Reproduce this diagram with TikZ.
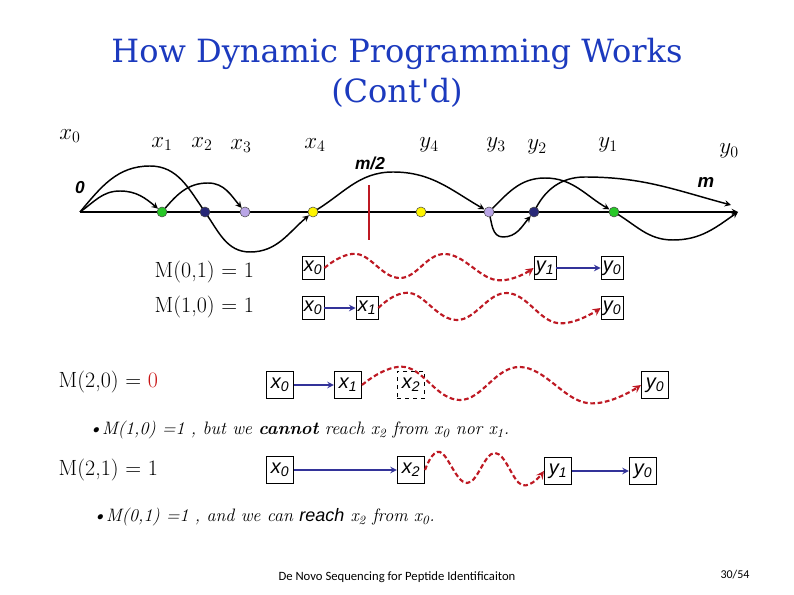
\documentclass[tikz,border=0pt]{standalone}
\usepackage{fontspec}
\setsansfont{Liberation Sans}
\newfontfamily\titlefont{DejaVu Serif}
\newfontfamily\footfont{Carlito}
\usetikzlibrary{backgrounds}
\definecolor{titleblue}{RGB}{28,58,190}
\definecolor{wavered}{RGB}{190,25,35}
\definecolor{navy}{RGB}{51,51,153}
\definecolor{dotgreen}{RGB}{40,200,40}
\definecolor{dotblue}{RGB}{40,40,120}
\definecolor{dotlilac}{RGB}{185,165,230}
\definecolor{dotyellow}{RGB}{255,245,0}
\definecolor{zerored}{RGB}{200,20,20}
\begin{document}
\begin{tikzpicture}[x=0.75pt,y=-0.75pt,>=stealth,
  dot/.style={circle,draw=black!70,line width=0.4pt,inner sep=0pt,minimum size=7.5pt},
  cell/.style={draw,line width=0.6pt,inner sep=0pt,minimum width=16.5pt,minimum height=17pt,
    font=\fontsize{15}{15}\sffamily\itshape},
  bigcell/.style={cell,minimum width=20.5pt,minimum height=20.5pt},
  hop/.style={->,line width=1.2pt,draw=navy},
  wave/.style={->,line width=1.6pt,dash pattern=on 3.5pt off 2pt,draw=wavered},
  jump/.style={->,line width=1.1pt},
  toplbl/.style={font=\fontsize{17}{17}\selectfont},
  mlbl/.style={anchor=west,font=\fontsize{16.5}{19}\selectfont},
  note/.style={anchor=west,font=\fontsize{13.5}{16}\selectfont\itshape}]
\useasboundingbox (0,0) rectangle (794,595);
% Title
\node[font=\fontsize{24}{30}\titlefont,text=titleblue,align=center] (title) at (397,73)
  {How Dynamic Programming Works\\(Cont'd)};
% Top line: 0 ... m
\node[toplbl] (lx0) at (70,136) {$x_0$};
\node[toplbl] (lx1) at (162,144) {$x_1$};
\node[toplbl] (lx2) at (202,144) {$x_2$};
\node[toplbl] (lx3) at (241,146) {$x_3$};
\node[toplbl] (lx4) at (315,145) {$x_4$};
\node[toplbl] (ly4) at (429,145) {$y_4$};
\node[toplbl] (ly3) at (496,145) {$y_3$};
\node[toplbl] (ly2) at (537,147) {$y_2$};
\node[toplbl] (ly1) at (608,145) {$y_1$};
\node[toplbl] (ly0) at (729,151) {$y_0$};
\node[font=\fontsize{13}{13}\sffamily\bfseries\itshape] (zerolbl) at (80,188) {0};
\node[font=\fontsize{14}{14}\sffamily\bfseries\itshape] (mlbl) at (706,182) {m};
\node[font=\fontsize{13}{13}\sffamily\bfseries\itshape] (halflbl) at (370,163) {m/2};
\coordinate (zero) at (80,212);
\coordinate (mend) at (738,212);
\coordinate (mtip) at (731,205);
\node[dot,fill=dotgreen] (d1) at (162,212) {};
\node[dot,fill=dotblue] (d2) at (205,212) {};
\node[dot,fill=dotlilac] (d3) at (245,212) {};
\node[dot,fill=dotyellow] (d4) at (313,212) {};
\node[dot,fill=dotyellow] (d5) at (421,212) {};
\node[dot,fill=dotlilac] (d6) at (489,212) {};
\node[dot,fill=dotblue] (d7) at (534,212) {};
\node[dot,fill=dotgreen] (d8) at (614,212) {};
\coordinate (half1) at (369,185);
\coordinate (half2) at (369,240);
\begin{scope}[on background layer]
\draw[jump] (zero) -- (mend);
\draw[line width=2pt,draw=wavered] (half1) -- (half2);
\draw[jump] (zero) to[out=50,in=180] (150,166) to[out=0,in=125] (d2.center)
  to[out=-55,in=180] (250,252) to[out=0,in=220] (d4);
\draw[jump] (zero) to[out=35,in=180] (120,191) to[out=0,in=140] (d1);
\draw[jump] (d1.center) to[out=50,in=180] (208,183) to[out=0,in=130] (d3);
\draw[jump] (d4.center) to[out=30,in=180] (393,172) to[out=0,in=150] (d6);
\draw[jump] (d6.center) to[out=-75,in=180] (503,237) to[out=0,in=230] (d7);
\draw[jump] (d6.center) to[out=45,in=180] (545,178) to[out=0,in=150] (d8);
\draw[jump] (d7.center) to[out=65,in=180] (585,177) to[out=0,in=165] (mtip);
\draw[jump] (d8.center) to[out=-30,in=180] (673,240) to[out=0,in=215] (mend);
\end{scope}
% Row M(0,1)
\node[mlbl] (m01) at (150,272) {M(0,1) = 1};
\node[cell] (r1x0) at (313,268) {x\textsubscript{0}};
\node[cell] (r1y1) at (545,268) {y\textsubscript{1}};
\node[cell] (r1y0) at (612,268) {y\textsubscript{0}};
\draw[wave] plot[smooth,tension=0.7] coordinates {(r1x0.east) (357,254) (400,278) (445,254) (496,280) (r1y1.west)};
\draw[hop] (r1y1) -- (r1y0);
% Row M(1,0)
\node[mlbl] (m10) at (150,307) {M(1,0) = 1};
\node[cell] (r2x0) at (313,308) {x\textsubscript{0}};
\node[cell] (r2x1) at (367,308) {x\textsubscript{1}};
\node[cell] (r2y0) at (612,308) {y\textsubscript{0}};
\draw[hop] (r2x0) -- (r2x1);
\draw[wave] plot[smooth,tension=0.7] coordinates {(r2x1.east) (410,293) (457,320) (507,293) (557,323) (r2y0.west)};
% Row M(2,0)
\node[mlbl] (m20) at (54,382) {M(2,0) = {\color{zerored}0}};
\node[bigcell] (r3x0) at (280,385) {x\textsubscript{0}};
\node[bigcell] (r3x1) at (348,385) {x\textsubscript{1}};
\node[bigcell,dashed] (r3x2) at (411,385) {x\textsubscript{2}};
\node[bigcell] (r3y0) at (655,385) {y\textsubscript{0}};
\draw[hop] (r3x0) -- (r3x1);
\draw[wave] plot[smooth,tension=0.7] coordinates {(r3x1.east) (405,367) (460,400) (520,367) (587,403) (r3y0.west)};
\node[note] (note1) at (84,430) {\textbullet M(1,0) =1 , but we \textbf{cannot} reach x\textsubscript{2} from x\textsubscript{0} nor x\textsubscript{1}.};
% Row M(2,1)
\node[mlbl] (m21) at (54,470) {M(2,1) = 1};
\node[bigcell] (r4x0) at (280,470) {x\textsubscript{0}};
\node[bigcell] (r4x2) at (411,470) {x\textsubscript{2}};
\node[bigcell] (r4y1) at (558,471) {y\textsubscript{1}};
\node[bigcell] (r4y0) at (643,471) {y\textsubscript{0}};
\draw[hop] (r4x0) -- (r4x2);
\draw[wave] plot[smooth,tension=0.7] coordinates {(r4x2.east) (440,452) (467,483) (495,453) (522,485) (r4y1.west)};
\draw[hop] (r4y1) -- (r4y0);
\node[note] (note2) at (88,517) {\textbullet M(0,1) =1 , and we can {\sffamily reach} x\textsubscript{2} from x\textsubscript{0}.};
% Footer
\node[font=\fontsize{9.5}{10}\footfont] (foot) at (397,577) {De Novo Sequencing for Peptide Identificaiton};
\node[font=\fontsize{9}{10}\footfont] (page) at (735,575) {30/54};
\end{tikzpicture}
\end{document}
